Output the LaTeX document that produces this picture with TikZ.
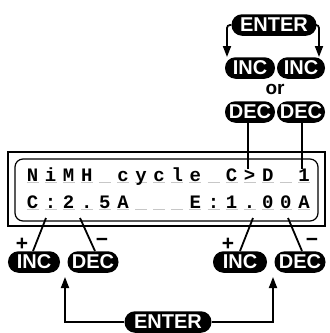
\documentclass[tikz,border=0pt]{standalone}
\usepackage{fontspec}
\newfontfamily\btnfont{Liberation Sans}
\newfontfamily\lcdfont{Liberation Mono}
\usetikzlibrary{arrows.meta}
\begin{document}
\begin{tikzpicture}[x=1pt,y=-1pt,
  btn/.style={fill=black, text=white, rounded corners=10.5pt, minimum height=21.5pt, minimum width=50pt, inner sep=0pt, font=\btnfont\bfseries\fontsize{20}{20}\selectfont},
  lcd/.style={font=\lcdfont\bfseries\fontsize{19}{19}\selectfont, anchor=base, inner sep=0pt},
  ul/.style={draw=black!22, line width=1.5pt},
  ptr/.style={line width=1.8pt},
  arr/.style={line width=1.8pt, -{Triangle[length=11pt,width=8pt]}},
  sign/.style={font=\btnfont\bfseries\fontsize{21}{21}\selectfont, inner sep=0pt},
  frame/.style={line width=1.2pt}]
\useasboundingbox (0,0) rectangle (330,333);
% display frames
\draw[frame] (8,152) rectangle (325,226);
\draw[frame, rounded corners=8pt] (15,159) rectangle (318,221);
% characters
\foreach \ch [count=\i from 0] in {N,i,M,H,{},c,y,c,l,e,{},C,>,D,{},1} {
  \draw[ul] ({32.5+18.1*\i-6},182.5) -- ++(12,0);
  \node[lcd] (ra\i) at ({32.5+18.1*\i},181) {\ch};
}
\foreach \ch [count=\i from 0] in {C,:,2,.,5,A,{},{},{},E,:,1,.,0,0,A} {
  \draw[ul] ({32.5+18.1*\i-6},209.5) -- ++(12,0);
  \node[lcd] (rb\i) at ({32.5+18.1*\i},208) {\ch};
}
% top buttons
\node[btn, minimum width=85pt] (entT) at (274,25) {ENTER};
\node[btn] (incT1) at (250,68) {INC};
\node[btn, minimum width=48pt] (incT2) at (301,68) {INC};
\node[font=\btnfont\bfseries\fontsize{19}{19}\selectfont, inner sep=0pt] (or) at (275,89) {or};
\node[btn] (decT1) at (250,112) {DEC};
\node[btn, minimum width=48pt] (decT2) at (301,112) {DEC};
\coordinate (aT1) at (227,57);
\coordinate (aT2) at (319,57);
\draw[arr, rounded corners=3pt] (entT.west) -| (aT1);
\draw[arr, rounded corners=3pt] (entT.east) -| (aT2);
\coordinate (pT1) at (248,169);
\coordinate (pT2) at (302,169);
\draw[ptr] ([xshift=-2pt]decT1.south) -- (pT1);
\draw[ptr] ([xshift=1pt]decT2.south) -- (pT2);
% bottom buttons
\node[btn, minimum width=52pt] (incL) at (34,262) {INC};
\node[btn, minimum width=51pt] (decL) at (93,262) {DEC};
\node[btn, minimum width=54pt] (incR) at (240,262) {INC};
\node[btn, minimum width=51pt] (decR) at (300,262) {DEC};
\node[btn, minimum width=87pt] (entB) at (168,322) {ENTER};
\coordinate (p1) at (46,218);
\coordinate (p2) at (80,218);
\coordinate (p3) at (253,218);
\coordinate (p4) at (288,218);
\draw[ptr] (p1) -- ([xshift=-1pt]incL.north);
\draw[ptr] (p2) -- ([xshift=2pt]decL.north);
\draw[ptr] (p3) -- (incR.north);
\draw[ptr] (p4) -- ([xshift=2pt]decR.north);
\node[sign] (s1) at (22,244) {+};
\node[sign] (s2) at (102,242) {−};
\node[sign] (s3) at (228,244) {+};
\node[sign] (s4) at (312,242) {−};
\coordinate (aB1) at (65,277);
\coordinate (aB2) at (273,277);
\draw[arr] (entB.west) -| (aB1);
\draw[arr] (entB.east) -| (aB2);
\end{tikzpicture}
\end{document}
